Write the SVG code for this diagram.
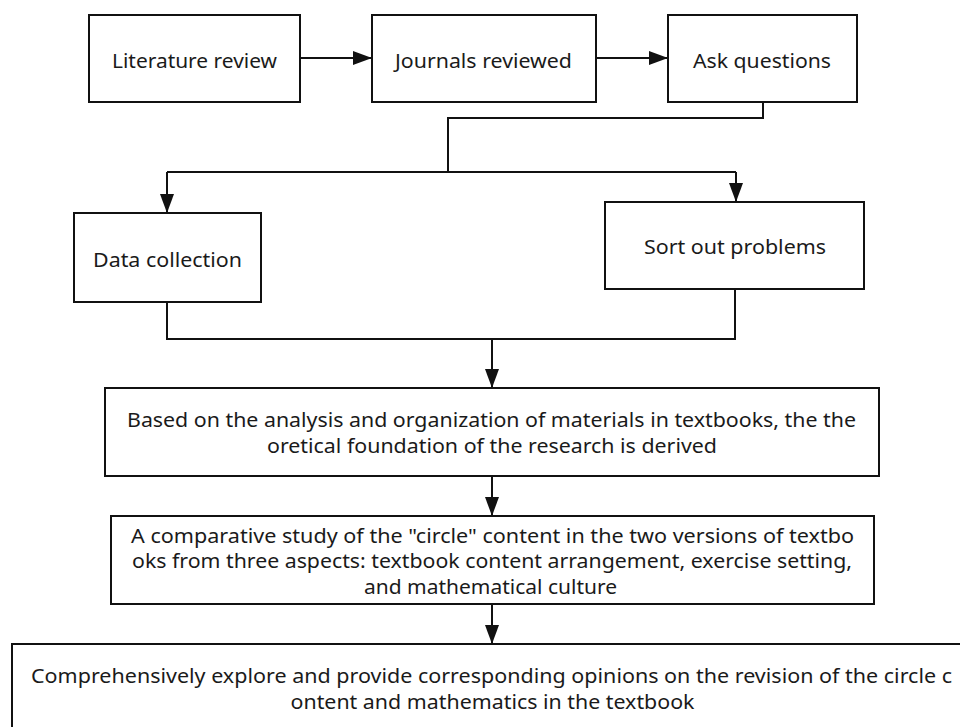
<svg xmlns="http://www.w3.org/2000/svg" width="960" height="727" viewBox="0 0 960 727">
<defs>
<style>
.box{fill:#ffffff;stroke:#111111;stroke-width:2}
.t{font-family:"Noto Sans","Open Sans","Liberation Sans",sans-serif;font-size:20px;fill:#1a1a1a;text-anchor:middle}
.ln{fill:none;stroke:#111111;stroke-width:2}
</style>
<marker id="ah" markerWidth="19" markerHeight="14" refX="19" refY="7" orient="auto" markerUnits="userSpaceOnUse">
<path d="M0,0 L19,7 L0,14 Z" fill="#111111"/>
</marker>
</defs>
<rect width="960" height="727" fill="#ffffff"/>
<g id="connectors">
<path class="ln" d="M300,58 L372,58" marker-end="url(#ah)"/>
<path class="ln" d="M596,58 L668,58" marker-end="url(#ah)"/>
<path class="ln" d="M763,102 L763,118 L448,118 L448,172"/>
<path class="ln" d="M167,172 L736,172"/>
<path class="ln" d="M167,172 L167,213" marker-end="url(#ah)"/>
<path class="ln" d="M736,172 L736,202" marker-end="url(#ah)"/>
<path class="ln" d="M167,302 L167,339 L735,339 L735,289"/>
<path class="ln" d="M492,339 L492,388" marker-end="url(#ah)"/>
<path class="ln" d="M492,476 L492,516" marker-end="url(#ah)"/>
<path class="ln" d="M492,604 L492,644" marker-end="url(#ah)"/>
</g>
<g id="n1"><rect class="box" x="89" y="15" width="211" height="87"/><text class="t" x="194.5" y="68" textLength="165" lengthAdjust="spacingAndGlyphs">Literature review</text></g>
<g id="n2"><rect class="box" x="372" y="15" width="224" height="87"/><text class="t" x="483.5" y="68" textLength="177" lengthAdjust="spacingAndGlyphs">Journals reviewed</text></g>
<g id="n3"><rect class="box" x="668" y="15" width="189" height="87"/><text class="t" x="762" y="68" textLength="138" lengthAdjust="spacingAndGlyphs">Ask questions</text></g>
<g id="n4"><rect class="box" x="74" y="213" width="187" height="89"/><text class="t" x="167.5" y="267" textLength="149" lengthAdjust="spacingAndGlyphs">Data collection</text></g>
<g id="n5"><rect class="box" x="605" y="202" width="259" height="87"/><text class="t" x="735" y="254" textLength="182" lengthAdjust="spacingAndGlyphs">Sort out problems</text></g>
<g id="n6"><rect class="box" x="105" y="388" width="774" height="88"/>
<text class="t" x="491.5" y="427" textLength="729" lengthAdjust="spacingAndGlyphs">Based on the analysis and organization of materials in textbooks, the the</text>
<text class="t" x="492" y="453" textLength="450" lengthAdjust="spacingAndGlyphs">oretical foundation of the research is derived</text></g>
<g id="n7"><rect class="box" x="111" y="516" width="763" height="88"/>
<text class="t" x="492.5" y="543" textLength="723" lengthAdjust="spacingAndGlyphs">A comparative study of the "circle" content in the two versions of textbo</text>
<text class="t" x="492" y="568" textLength="720" lengthAdjust="spacingAndGlyphs">oks from three aspects: textbook content arrangement, exercise setting,</text>
<text class="t" x="490.5" y="594" textLength="253" lengthAdjust="spacingAndGlyphs">and mathematical culture</text></g>
<g id="n8"><rect class="box" x="12" y="644" width="962" height="92"/>
<text class="t" x="491.5" y="683" textLength="921" lengthAdjust="spacingAndGlyphs">Comprehensively explore and provide corresponding opinions on the revision of the circle c</text>
<text class="t" x="492.5" y="709" textLength="404" lengthAdjust="spacingAndGlyphs">ontent and mathematics in the textbook</text></g>
</svg>
